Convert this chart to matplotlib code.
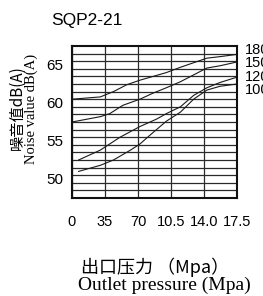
import numpy as np
import matplotlib
matplotlib.use("Agg")
import matplotlib.pyplot as plt

# Dados (pressão em MPa, ruído em dB(A))
titulo = "SQP2-21"
x_ticks = [0, 3.5, 7.0, 10.5, 14.0, 17.5]
x_tick_labels = ["0", "35", "70", "10.5", "14.0", "17.5"]
y_ticks = [50, 55, 60, 65]

x_180 = [0, 3.0, 4.4, 5.8, 7.2, 8.6, 10.0, 11.5, 12.9, 14.3, 15.7, 17.5]
y_180 = [60.5, 60.8, 61.5, 62.4, 63.0, 63.5, 64.0, 64.7, 65.3, 65.9, 66.1, 66.4]

x_150 = [0, 3.0, 4.0, 5.4, 7.2, 8.6, 10.0, 11.5, 12.9, 14.3, 15.7, 17.5]
y_150 = [57.5, 58.2, 58.6, 59.7, 60.5, 61.3, 62.0, 62.8, 63.7, 64.6, 64.9, 65.4]

x_120 = [0.7, 3.0, 5.1, 7.2, 9.0, 10.0, 11.5, 12.9, 14.3, 15.7, 17.5]
y_120 = [52.5, 53.8, 55.5, 56.9, 57.9, 58.6, 59.5, 61.0, 62.0, 62.7, 63.4]

x_100 = [0.7, 3.0, 4.4, 6.2, 7.2, 8.3, 10.0, 11.5, 12.9, 14.3, 15.7, 17.5]
y_100 = [51.0, 51.8, 52.5, 53.8, 54.6, 55.8, 57.6, 58.8, 60.5, 61.7, 62.2, 62.5]

curvas = [(x_180, y_180), (x_150, y_150), (x_120, y_120), (x_100, y_100)]
rotulos = ["180", "150", "120", "100"]

sans = ["Liberation Sans", "DejaVu Sans"]
cjk = ["Noto Sans CJK SC", "Liberation Sans"]
serif = ["Liberation Serif", "DejaVu Serif"]

fig = plt.figure(figsize=(2.63, 2.96), dpi=100)
ax = fig.add_axes([72 / 263, 1 - 198 / 296, 165 / 263, 152 / 296])

for xs, ys in curvas:
    ax.plot(xs, ys, color="#1a1a1a", lw=0.8)

ax.set_xlim(0, 17.5)
ax.set_ylim(47.5, 67.5)
ax.set_xticks(x_ticks)
ax.set_xticklabels(x_tick_labels, family=sans, fontsize=10.5)
ax.set_yticks(y_ticks)
ax.set_yticklabels([str(v) for v in y_ticks], family=sans, fontsize=11)
ax.set_yticks(np.arange(48.5, 67.5, 1), minor=True)
ax.tick_params(axis="both", which="both", length=0)
ax.tick_params(axis="x", pad=12)
ax.tick_params(axis="y", pad=6)

ax.grid(True, axis="x", which="major", color="#2a2a2a", lw=0.9)
ax.grid(True, axis="y", which="minor", color="#2a2a2a", lw=0.9)
ax.grid(False, axis="y", which="major")
for s in ax.spines.values():
    s.set_linewidth(1.5)
    s.set_color("#111111")

# Rótulos das curvas à direita
for i, r in enumerate(rotulos):
    ax.text(1.048, 0.974 - i * 0.0875, r, transform=ax.transAxes,
            ha="left", va="center", family=sans, fontsize=10.5, clip_on=False)

fig.text(87 / 263, 1 - 20 / 296, titulo, ha="center", va="center",
         family=sans, fontsize=12.5)

fig.text(17 / 263, 1 - 108 / 296, "噪音值dB(A)", rotation=90,
         ha="center", va="center", family=cjk, fontsize=11)
fig.text(31 / 263, 1 - 109 / 296, "Noise value dB(A)", rotation=90,
         ha="center", va="center", family=serif, fontsize=10.5)

fig.text(155 / 263, 1 - 267 / 296, "出口压力 （Mpa）", ha="center", va="center",
         family=cjk, fontsize=13)
fig.text(164 / 263, 1 - 285 / 296, "Outlet pressure (Mpa)", ha="center",
         va="center", family=serif, fontsize=14)

fig.savefig("out.png", dpi=100)
